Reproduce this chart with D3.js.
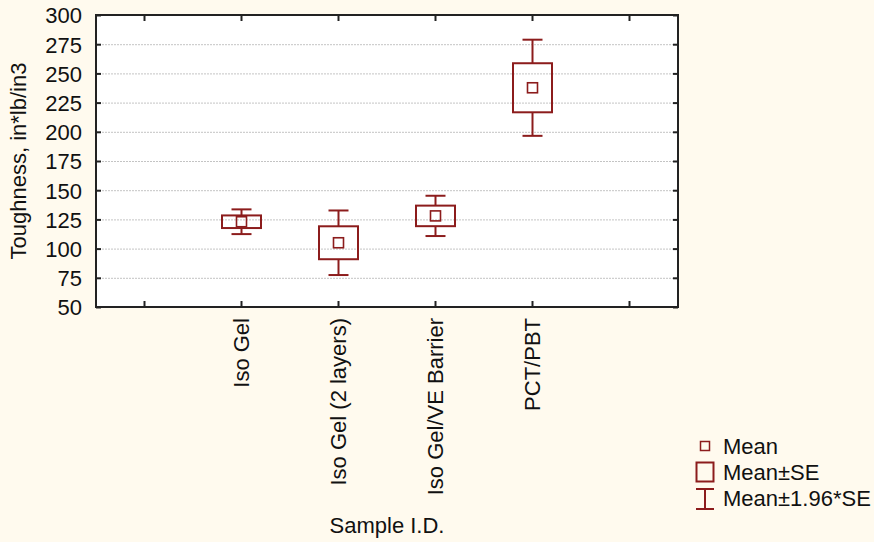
<!DOCTYPE html>
<html>
<head>
<meta charset="utf-8">
<script src="https://cdn.jsdelivr.net/npm/d3@7"></script>
<style>
  body { margin: 0; background: #fffaee; }
  svg { display: block; font-family: "Liberation Sans", Arial, sans-serif; }
</style>
</head>
<body>
<svg id="chart" width="874" height="542"></svg>
<script>
// slots on the x axis (first and last are empty, as in the original)
const slots = ['', 'Iso Gel', 'Iso Gel (2 layers)', 'Iso Gel/VE Barrier', 'PCT/PBT', ' '];
const samples = ['Iso Gel', 'Iso Gel (2 layers)', 'Iso Gel/VE Barrier', 'PCT/PBT'];
const means = [123, 105, 128, 237.7];
const se = [5.4, 14.1, 8.8, 21];
const yTicks = [50, 75, 100, 125, 150, 175, 200, 225, 250, 275, 300];
const legendItems = ['Mean', 'Mean\u00b1SE', 'Mean\u00b11.96*SE'];

const red = '#8c1c1c';
const fontSize = 22;
const margin = {left: 96, top: 15, right: 196, bottom: 235};
const width = 874, height = 542;

const svg = d3.select('#chart');

const x = d3.scaleBand()
  .domain(slots)
  .range([margin.left, width - margin.right]);

const y = d3.scaleLinear()
  .domain([50, 300])
  .range([height - margin.bottom, margin.top]);

const x0 = margin.left, x1 = width - margin.right;
const y0 = height - margin.bottom, y1 = margin.top;

// plot background
svg.append('rect')
  .attr('x', x0).attr('y', y1)
  .attr('width', x1 - x0).attr('height', y0 - y1)
  .attr('fill', '#fff');

// grid lines
svg.append('g')
  .selectAll('line')
  .data(yTicks.slice(1, -1))
  .join('line')
    .attr('x1', x0).attr('x2', x1)
    .attr('y1', d => y(d) + 0.5).attr('y2', d => y(d) + 0.5)
    .attr('stroke', '#c4c4c4')
    .attr('stroke-dasharray', '2,1');

// axes (ticks pointing inward)
const axisStyle = g => {
  g.select('.domain').remove();
  g.selectAll('.tick line').attr('stroke', '#222').attr('stroke-width', 2);
  g.selectAll('.tick text').attr('fill', '#111').attr('font-size', fontSize);
};

svg.append('g')
  .attr('transform', `translate(${x0},0)`)
  .call(d3.axisLeft(y).tickValues(yTicks).tickSizeInner(-5).tickSizeOuter(0).tickPadding(14))
  .call(axisStyle)
  .call(g => g.selectAll('.tick text').attr('dy', '0.36em'));

svg.append('g')
  .attr('transform', `translate(${x1},0)`)
  .call(d3.axisRight(y).tickValues(yTicks).tickSizeInner(-5).tickSizeOuter(0).tickFormat(''))
  .call(axisStyle);

svg.append('g')
  .attr('transform', `translate(0,${y1})`)
  .call(d3.axisTop(x).tickSizeInner(-6).tickSizeOuter(0).tickFormat(''))
  .call(axisStyle);

svg.append('g')
  .attr('transform', `translate(0,${y0})`)
  .call(d3.axisBottom(x).tickSizeInner(-6).tickSizeOuter(0).tickPadding(0))
  .call(axisStyle)
  .call(g => g.selectAll('.tick text')
    .attr('transform', 'rotate(-90)')
    .attr('text-anchor', 'end')
    .attr('x', -11)
    .attr('y', 0)
    .attr('dy', '0.36em'));

// frame
svg.append('rect')
  .attr('x', x0).attr('y', y1)
  .attr('width', x1 - x0).attr('height', y0 - y1)
  .attr('fill', 'none')
  .attr('stroke', '#222')
  .attr('stroke-width', 2);

// axis titles
svg.append('text')
  .attr('x', (x0 + x1) / 2).attr('y', 533)
  .attr('text-anchor', 'middle')
  .attr('font-size', fontSize)
  .attr('fill', '#111')
  .text('Sample I.D.');

svg.append('text')
  .attr('transform', `translate(26,${(y0 + y1) / 2}) rotate(-90)`)
  .attr('text-anchor', 'middle')
  .attr('font-size', fontSize)
  .attr('fill', '#111')
  .text('Toughness, in*lb/in3');

// box / whisker marks
const boxW = 39, capW = 20, meanS = 10;
const marks = svg.append('g')
  .selectAll('g')
  .data(samples.map((s, i) => ({s, m: means[i], e: se[i]})))
  .join('g')
    .attr('transform', d => `translate(${x(d.s) + x.bandwidth() / 2},0)`)
    .attr('stroke', red)
    .attr('fill', 'none')
    .attr('stroke-width', 2);

// whiskers
marks.append('line')
  .attr('x1', 0).attr('x2', 0)
  .attr('y1', d => y(d.m + 1.96 * d.e)).attr('y2', d => y(d.m + d.e));
marks.append('line')
  .attr('x1', 0).attr('x2', 0)
  .attr('y1', d => y(d.m - d.e)).attr('y2', d => y(d.m - 1.96 * d.e));
marks.append('line')
  .attr('x1', -capW / 2).attr('x2', capW / 2)
  .attr('y1', d => y(d.m + 1.96 * d.e)).attr('y2', d => y(d.m + 1.96 * d.e));
marks.append('line')
  .attr('x1', -capW / 2).attr('x2', capW / 2)
  .attr('y1', d => y(d.m - 1.96 * d.e)).attr('y2', d => y(d.m - 1.96 * d.e));

// SE box
marks.append('rect')
  .attr('x', -boxW / 2)
  .attr('y', d => y(d.m + d.e))
  .attr('width', boxW)
  .attr('height', d => y(d.m - d.e) - y(d.m + d.e));

// mean square
marks.append('rect')
  .attr('x', -meanS / 2)
  .attr('y', d => y(d.m) - meanS / 2)
  .attr('width', meanS).attr('height', meanS)
  .attr('stroke-width', 1.6);

// legend
const legend = svg.append('g').attr('transform', 'translate(705,0)');
const ly = [446, 472, 498];

legend.append('rect')
  .attr('x', -4.5).attr('y', ly[0] - 4.5)
  .attr('width', 9).attr('height', 9)
  .attr('fill', 'none').attr('stroke', red).attr('stroke-width', 1.5);

legend.append('rect')
  .attr('x', -8.5).attr('y', ly[1] - 9.5)
  .attr('width', 17).attr('height', 19)
  .attr('fill', 'none').attr('stroke', red).attr('stroke-width', 2);

legend.append('path')
  .attr('d', `M-9,${ly[2] - 9}H9M0,${ly[2] - 9}V${ly[2] + 11}M-9,${ly[2] + 11}H9`)
  .attr('fill', 'none').attr('stroke', red).attr('stroke-width', 2);

legend.selectAll('text')
  .data(legendItems)
  .join('text')
    .attr('x', 18)
    .attr('y', (d, i) => ly[i] + 8)
    .attr('font-size', fontSize)
    .attr('fill', '#111')
    .text(d => d);
</script>
</body>
</html>
